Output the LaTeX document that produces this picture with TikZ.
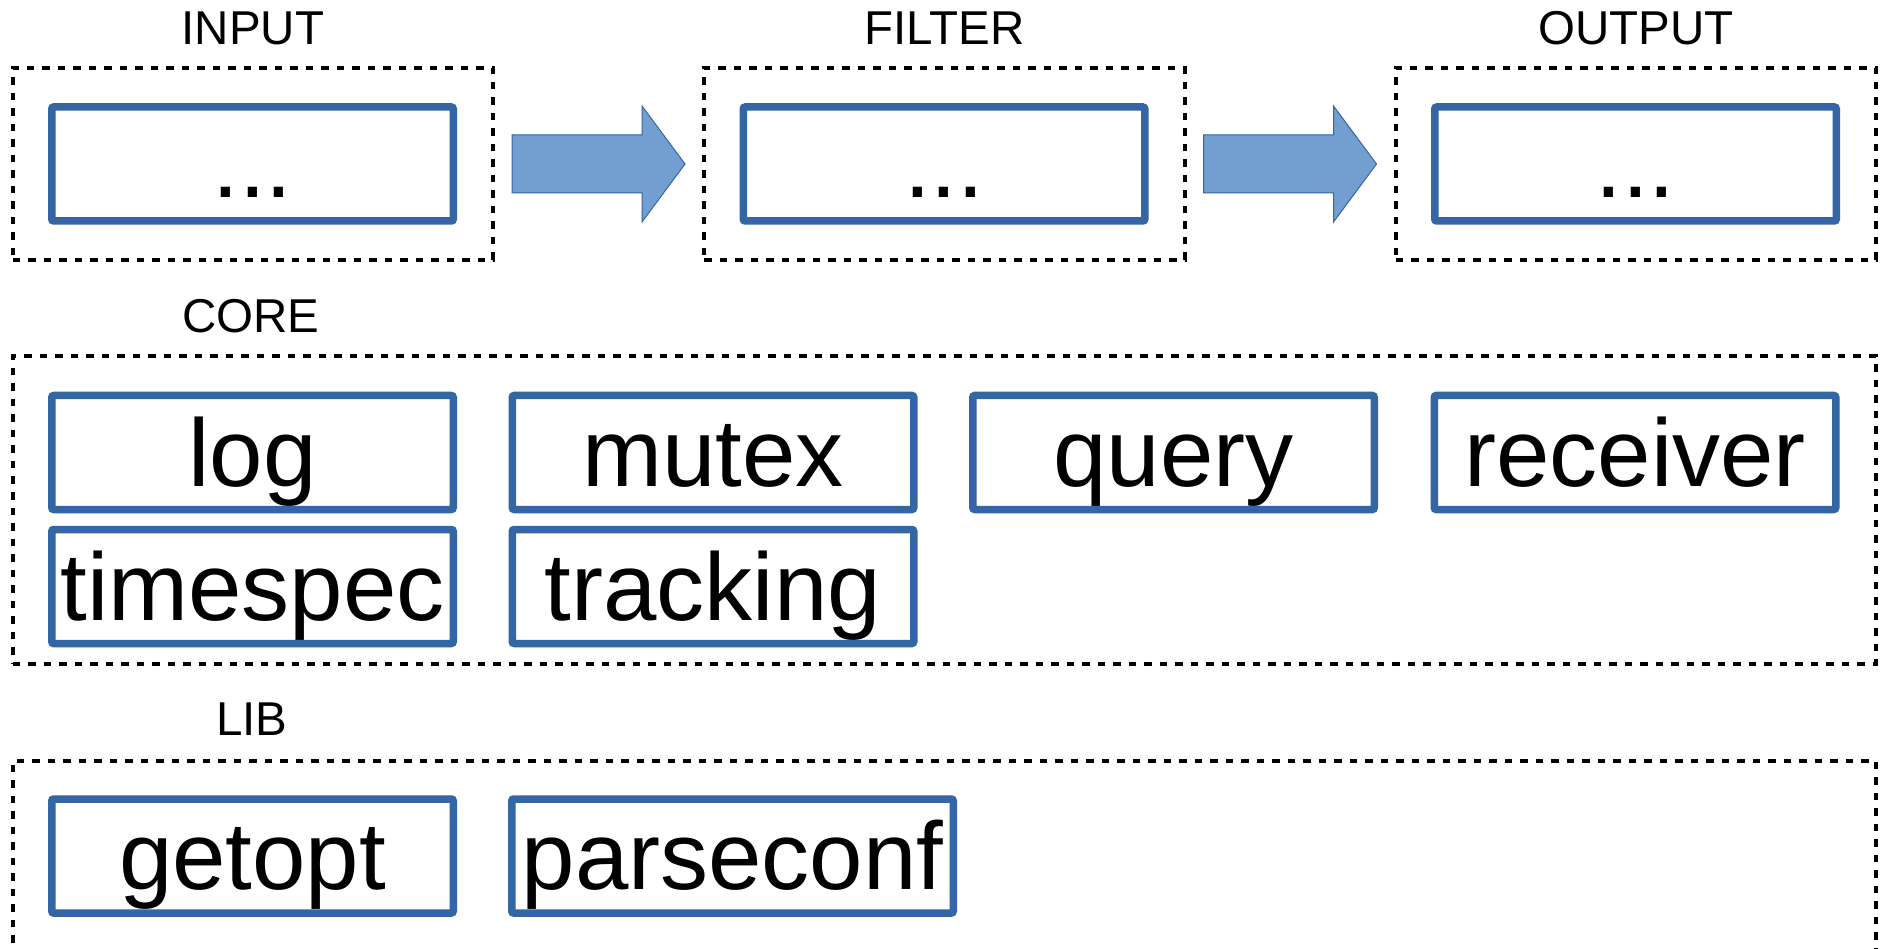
\documentclass[tikz,border=0pt]{standalone}
\usepackage{fontspec}
\setmainfont{Liberation Sans}
\definecolor{boxblue}{HTML}{3465A4}
\definecolor{arrowfill}{HTML}{729FCF}
\begin{document}
\begin{tikzpicture}[x=1pt, y=-1pt,
  groupbox/.style={draw=black, line width=4pt, dash pattern=on 7.5pt off 8pt,
    rectangle, inner sep=0pt, outer sep=0pt},
  grouplabel/.style={anchor=base, inner sep=0pt, font=\fontsize{47.5}{52}\selectfont},
  modbox/.style={draw=boxblue, line width=7.5pt, rounded corners=2pt, fill=white,
    rectangle, inner sep=0pt, outer sep=0pt, minimum width=401.5pt, minimum height=114pt,
    text height=80pt, text depth=13pt, font=\fontsize{96}{100}\selectfont},
  flowarrow/.pic={
    \path[fill=arrowfill, draw=boxblue, line width=1pt, line join=miter]
      (0,-29) -- (130,-29) -- (130,-58) -- (173,0) -- (130,58) -- (130,29) -- (0,29) -- cycle;
  }]
\clip (0,0) rectangle (1888,949);
\fill[white] (0,0) rectangle (1888,949);

% pipeline stages
\node[groupbox, minimum width=480.5pt, minimum height=192pt] (input)  at (252.75,164) {};
\node[groupbox, minimum width=480.5pt, minimum height=192pt] (filter) at (944.25,164) {};
\node[groupbox, minimum width=480.5pt, minimum height=192pt] (output) at (1635.75,164) {};
\node[grouplabel] (inputlbl)  at (253,44.5) {INPUT};
\node[grouplabel] (filterlbl) at (944.5,44.5) {FILTER};
\node[grouplabel] (outputlbl) at (1636,44.5) {OUTPUT};
\node[modbox] (inmod)  at (252.5,164) {...};
\node[modbox] (filmod) at (944,164) {...};
\node[modbox] (outmod) at (1635.5,164) {...};

% arrows between stages
\coordinate (a1) at (512,164);
\coordinate (a2) at (1203.5,164);
\pic at (a1) {flowarrow};
\pic at (a2) {flowarrow};

% core modules
\node[groupbox, minimum width=1863pt, minimum height=307.5pt] (core) at (944,509.75) {};
\node[grouplabel] (corelbl) at (251,332.5) {CORE};
\node[modbox] (log)       at (252.5,452.5) {log};
\node[modbox] (mutex)     at (713,452.5) {mutex};
\node[modbox] (query)     at (1173.5,452.5) {query};
\node[modbox] (receiver)  at (1635,452.5) {receiver};
\node[modbox] (timespec)  at (252.5,586.5) {timespec};
\node[modbox] (tracking)  at (713,586.5) {tracking};

% library modules
\node[groupbox, minimum width=1863pt, minimum height=300pt] (lib) at (944,910.5) {};
\node[grouplabel] (liblbl) at (252,735.5) {LIB};
\node[modbox] (getopt)    at (252.5,856) {getopt};
\node[modbox, minimum width=441.5pt] (parseconf) at (732.5,856) {parseconf};
\end{tikzpicture}
\end{document}
